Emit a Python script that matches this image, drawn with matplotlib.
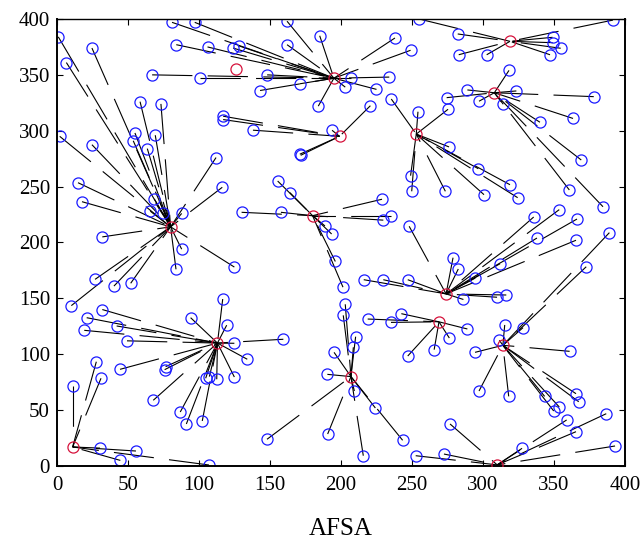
import matplotlib
matplotlib.use("Agg")
import matplotlib.pyplot as plt

plt.rcParams["font.family"] = ["Liberation Serif", "DejaVu Serif"]
plt.rcParams["lines.scale_dashes"] = False

# cluster heads
head_x = [11, 80, 126, 195, 199, 253, 319, 308, 180, 274, 113, 207, 269, 314, 310]
head_y = [17, 214, 355, 347, 295, 297, 380, 334, 224, 154, 110, 80, 129, 108, 1]

# sensor nodes and the head each one reports to
node_x = [
    # head 0
    27.7, 31, 11, 30.3, 55.6, 44.6, 107,
    # head 1
    0.9, 24.6, 6.6, 58.5, 73.2, 1.9, 24.6, 54.9, 53.7, 69.2, 63.6, 112, 14.8, 17.6,
    68.5, 65.7, 74.9, 87.8, 116.4, 31.9, 87.8, 83.8, 124.9, 26.8, 40.1, 51.9, 10.1,
    # head 3
    81, 97, 84, 106, 124, 128, 67, 101, 162, 185, 162, 148, 171, 143, 207, 203,
    234, 225, 184, 238, 249,
    # head 4
    138, 220.7, 193.7, 171, 171.6, 117, 117,
    # head 5
    235.4, 254.2, 275.4, 276.1, 296.7, 273.5, 300.7, 319, 324.4, 249, 249.8,
    # head 6
    391.5, 282.2, 282.9, 302.6, 349, 349, 354.7, 347.2, 255,
    # head 7
    318.3, 289, 274.4, 323.5, 297.2, 314.3, 378, 363.4, 340.1, 360.8, 384.5, 369.2,
    # head 8
    155.4, 164, 157.7, 130, 228.9, 235.2, 229.8, 188.7, 193.4, 196, 201.4,
    # head 9
    248, 216, 229.8, 247, 335.7, 353.7, 366.2, 338, 365.5, 278.9, 282.6, 294.6,
    312, 286.2, 309.9, 316.4,
    # head 10
    116.7, 31.9, 20.9, 94.1, 42, 19.2, 49.3, 119.5, 124.9, 134, 44.4, 76.5, 75.8,
    104.7, 107.3, 112.5, 124.9, 67.8, 86.8, 91.1, 102.3, 159.4,
    # head 11
    203, 201.6, 210.3, 208.7, 195.1, 190.4, 209.4, 224.2, 243.4, 215.7, 190.6, 147.9,
    # head 12
    242.5, 218.8, 235.2, 247, 265.6, 289, 276.3,
    # head 13
    315.3, 328.2, 311.5, 294.4, 361, 297.2, 318.1, 343.4, 365.5, 367.4, 353.7, 349.8,
    389, 372.7,
    # head 14
    276.8, 358.9, 386.8, 365.5, 327.5, 393, 272.5, 252.6,
]
node_y = [
    93.3, 78.5, 71.6, 16, 13.4, 5, 0.9,
    384, 374, 361, 326, 324, 295, 287.5, 298, 291, 296, 284, 276, 253.5, 236.5,
    239, 228, 226, 226, 249.4, 205, 194, 176, 178, 167, 161, 163.5, 143.5,
    397, 397, 377, 375, 374, 376, 350, 347, 398, 385, 377, 350, 342, 336, 347, 339,
    348, 337, 322, 383, 372,
    300.5, 322.4, 300.4, 279, 278, 313, 310,
    328.4, 317, 319.2, 285.5, 266, 245.8, 242.8, 251.7, 240.1, 259.8, 245.8,
    399, 386.6, 368, 368, 383.6, 378.8, 373.8, 368, 400,
    354, 336.5, 329.6, 335.6, 326.4, 323.7, 330.5, 311, 307.6, 247, 232, 273.8,
    255, 244.6, 227, 227, 238.7, 224, 220, 214.8, 207.6, 183, 160,
    214.5, 166.7, 166.7, 166.7, 222.8, 229.4, 221, 204, 202, 186.4, 176.3, 168.2,
    181, 149, 151, 153,
    149.4, 140, 132.7, 132.7, 125.3, 121.4, 112, 126, 109.8, 95.5, 86.5, 88.9, 86.2,
    78.5, 80, 77.6, 79.6, 58.8, 48.3, 37.6, 40.3, 113.4,
    144.7, 134.8, 115.7, 106.2, 101.7, 82, 67.1, 51.9, 23, 9.2, 28.6, 23.9,
    136.3, 131.5, 128.5, 98.4, 104.1, 122.6, 114.5,
    126.2, 123.8, 112.5, 101.7, 102.6, 67.1, 62.3, 62.3, 64.7, 57.5, 52.8, 49.2,
    208.8, 178.3,
    37.6, 41.2, 46.8, 30.7, 15.8, 17.9, 10.7, 9.2,
]
node_head = (
    [0] * 7 + [1] * 27 + [3] * 21 + [4] * 7 + [5] * 11 + [6] * 9 + [7] * 12
    + [8] * 11 + [9] * 16 + [10] * 22 + [11] * 12 + [12] * 7 + [13] * 14 + [14] * 8
)

x_ticks = list(range(0, 401, 50))
y_ticks = list(range(0, 401, 50))


def main() -> None:
    fig = plt.figure(figsize=(6.44, 5.47), dpi=100)
    ax = fig.add_axes([0.0885, 0.1481, 0.882, 0.8172])

    # links node -> cluster head
    for xn, yn, h in zip(node_x, node_y, node_head):
        ax.plot([xn, head_x[h]], [yn, head_y[h]], color="black", lw=0.8,
                linestyle=(0, (29, 11)), zorder=1)

    ax.plot(node_x, node_y, "o", ms=8, mfc="none", mec="#1a1aff", mew=0.9, zorder=2)
    ax.plot(head_x, head_y, "o", ms=8, mfc="none", mec="#d6123c", mew=0.9, zorder=3)

    ax.set_xlim(0, 400)
    ax.set_ylim(0, 400)
    ax.set_xticks(x_ticks)
    ax.set_yticks(y_ticks)
    ax.tick_params(direction="in", length=4, width=0.8, top=True, right=True,
                   labelsize=15)
    ax.tick_params(axis="x", pad=7)
    ax.tick_params(axis="y", pad=5)
    for side in ["left", "bottom", "right"]:
        ax.spines[side].set_linewidth(1.4)
    ax.spines["top"].set_linewidth(1.0)

    ax.set_xlabel("AFSA", fontsize=18, labelpad=17)

    fig.savefig("out.png", dpi=100)
    plt.close(fig)


if __name__ == "__main__":
    main()
